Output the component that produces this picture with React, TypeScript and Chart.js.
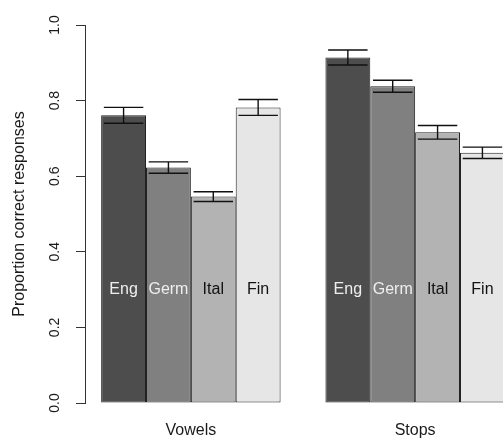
import React, { useEffect, useRef } from "react";
import { Chart, registerables } from "chart.js";

Chart.register(...registerables);

// ---- data ----
const groups = ["Vowels", "Stops"];
const languages = ["Eng", "Germ", "Ital", "Fin"];
const engValues = [0.761, 0.914];
const germValues = [0.623, 0.838];
const italValues = [0.546, 0.716];
const finValues = [0.782, 0.662];
const engErrors = [0.021, 0.02];
const germErrors = [0.015, 0.016];
const italErrors = [0.013, 0.018];
const finErrors = [0.021, 0.015];
const yTickLabels = ["0.0", "0.2", "0.4", "0.6", "0.8", "1.0"];
const labelLevel = 0.3;

const seriesValues = [engValues, germValues, italValues, finValues];
const seriesErrors = [engErrors, germErrors, italErrors, finErrors];
const barColors = ["#4d4d4d", "#808080", "#b3b3b3", "#e6e6e6"];
const labelColors = ["#eeeeee", "#eeeeee", "#111111", "#111111"];

const FONT = "'Liberation Sans', Arial, sans-serif";

// R barplot style coordinates: bars width 1, one bar gap between groups
const n = languages.length;
const groupCenters = groups.map((_, i) => 1 + i * (n + 1) + n / 2);
// R's default 4% axis extension around the bar range [1, 10]
const xMin = 1 - 0.04 * (groups.length * (n + 1) - 1);
const xMax = groups.length * (n + 1) + 0.04 * (groups.length * (n + 1) - 1);

const overlayPlugin = {
  id: "overlay",
  afterDatasetsDraw(chart: any) {
    const ctx = chart.ctx;
    const yScale = chart.scales.y;
    ctx.save();
    // error bars
    chart.data.datasets.forEach((ds: any, di: number) => {
      const meta = chart.getDatasetMeta(di);
      meta.data.forEach((el: any, i: number) => {
        const v = seriesValues[di][i];
        const e = seriesErrors[di][i];
        const yTop = yScale.getPixelForValue(v + e);
        const yBot = yScale.getPixelForValue(v - e);
        const half = el.width * 0.44;
        ctx.strokeStyle = "#111";
        ctx.lineWidth = 1.4;
        ctx.beginPath();
        ctx.moveTo(el.x, yTop);
        ctx.lineTo(el.x, yBot);
        ctx.moveTo(el.x - half, yTop);
        ctx.lineTo(el.x + half, yTop);
        ctx.moveTo(el.x - half, yBot);
        ctx.lineTo(el.x + half, yBot);
        ctx.stroke();
      });
    });
    // bar labels
    ctx.font = `16px ${FONT}`;
    ctx.textAlign = "center";
    ctx.textBaseline = "middle";
    chart.data.datasets.forEach((ds: any, di: number) => {
      const meta = chart.getDatasetMeta(di);
      meta.data.forEach((el: any) => {
        ctx.fillStyle = labelColors[di];
        ctx.fillText(ds.label, el.x, yScale.getPixelForValue(labelLevel));
      });
    });
    ctx.restore();
  },
};

export default function App() {
  const ref = useRef<HTMLCanvasElement>(null);
  useEffect(() => {
    if (!ref.current) return;
    const chart = new Chart(ref.current, {
      type: "bar",
      data: {
        datasets: languages.map((lang, di) => ({
          label: lang,
          data: groups.map((_, gi) => ({ x: groupCenters[gi], y: seriesValues[di][gi] })),
          backgroundColor: barColors[di],
          borderColor: "#222",
          borderWidth: 1,
          borderSkipped: false,
        })),
      },
      options: {
        animation: false,
        responsive: false,
        events: [],
        layout: { padding: { top: 25, left: 0, right: 0, bottom: 0 } },
        datasets: { bar: { categoryPercentage: 0.8, barPercentage: 1 } },
        plugins: { legend: { display: false }, tooltip: { enabled: false } },
        scales: {
          x: {
            type: "linear",
            offset: false,
            min: xMin,
            max: xMax,
            afterBuildTicks: (scale: any) => {
              scale.ticks = groupCenters.map((v) => ({ value: v }));
            },
            afterFit: (scale: any) => {
              scale.height = 36;
            },
            grid: { display: false, drawTicks: false, tickLength: 0, offset: false },
            border: { display: false },
            ticks: {
              autoSkip: false,
              maxRotation: 0,
              padding: 18,
              color: "#1a1a1a",
              font: { family: FONT, size: 16 },
              callback: (_v: any, i: number) => groups[i],
            },
          },
          y: {
            min: 0,
            max: 1,
            afterFit: (scale: any) => {
              scale.width = 85;
            },
            grid: { display: true, drawOnChartArea: false, drawTicks: true, tickLength: 9, color: "#333" },
            border: { display: true, color: "#333", width: 1 },
            ticks: {
              stepSize: 0.2,
              minRotation: 90,
              maxRotation: 90,
              crossAlign: "center",
              padding: 11,
              color: "#1a1a1a",
              font: { family: FONT, size: 14 },
              callback: (_v: any, i: number) => yTickLabels[i],
            },
            title: {
              display: true,
              text: "Proportion correct responses",
              color: "#1a1a1a",
              font: { family: FONT, size: 16 },
              padding: { top: 10, bottom: 0 },
            },
          },
        },
      },
      plugins: [overlayPlugin],
    });
    return () => chart.destroy();
  }, []);
  return (
    <div style={{ position: "fixed", left: 0, top: 0, width: 521, height: 439, background: "#fff" }}>
      <canvas ref={ref} width={521} height={439} />
    </div>
  );
}
